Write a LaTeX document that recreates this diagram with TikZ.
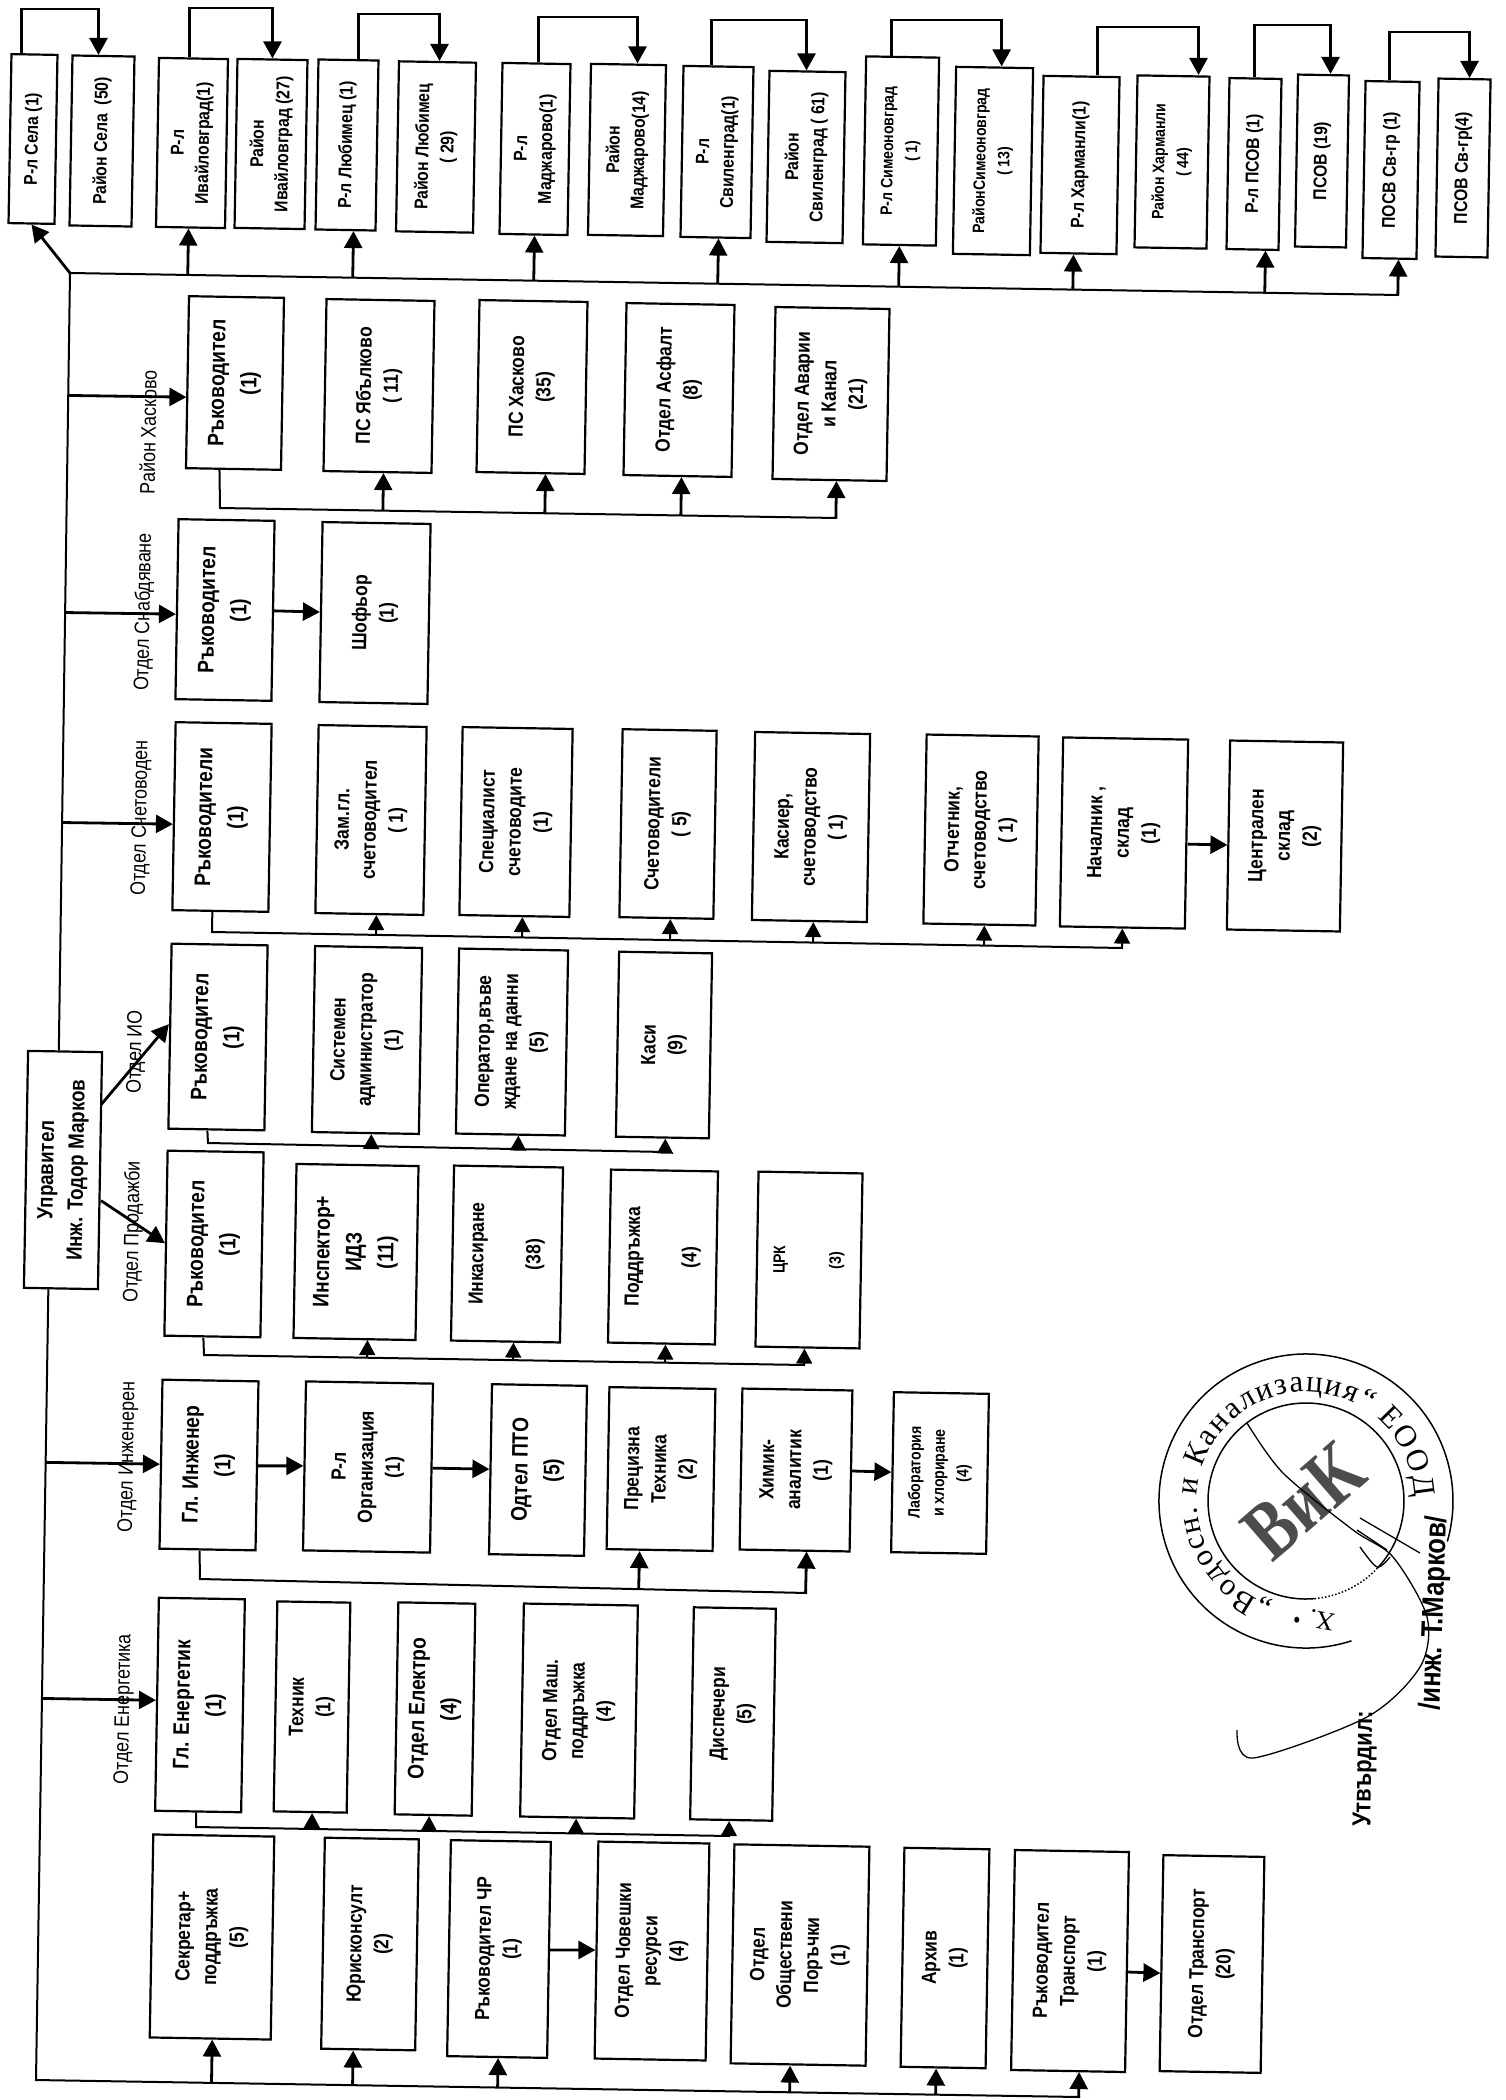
\documentclass[tikz,border=0pt]{standalone}
\usepackage{fontspec}
\setmainfont{Liberation Sans}[FakeStretch=0.85]
\newfontfamily\stampfont{Liberation Serif}
\newfontfamily\logofont{Liberation Serif}[FakeStretch=0.8]
\usetikzlibrary{arrows.meta,calc,decorations.text}
\tikzset{
    box/.style 2 args={draw,line width=2.2pt,rotate=89,minimum width=#1,minimum height=#2,
        inner sep=0pt,align=center,font=\fontsize{20.5}{27}\selectfont\bfseries},
    toptxt/.style={font=\fontsize{18.5}{25}\selectfont\bfseries},
    smalltxt/.style={font=\fontsize{16.5}{24}\selectfont\bfseries},
    bigtxt/.style={font=\fontsize{22.5}{32}\selectfont\bfseries},
    side/.style={rotate=89,inner sep=0pt,font=\fontsize{21}{21}\selectfont},
    wire/.style={line width=2pt},
    link/.style={line width=2.8pt,-{Triangle[length=17pt,width=18pt]}},
    tick/.style={line width=2pt,-{Triangle[length=15pt,width=16pt]}}
}
\begin{document}
\begin{tikzpicture}[x=1pt,y=-1pt]
\useasboundingbox (0,0) rectangle (1505,2100);

% Top row
\node[box={169}{46},toptxt] (r1) at (33,139) {Р-л Села (1)};
\node[box={170}{62},toptxt] (r2) at (102,141) {Район Села\ \ (50)};
\node[box={169}{69},toptxt] (r3) at (192,143) {Р-л\\Ивайловград(1)};
\node[box={169}{70},toptxt] (r4) at (271,144) {Район\\Ивайловград (27)};
\node[box={170}{60},toptxt] (r5) at (347,145) {Р-л Любимец (1)};
\node[box={170}{77},toptxt] (r6) at (436,147) {Район Любимец\\( 29)};
\node[box={171}{68},toptxt] (r7) at (535,149) {Р-л\\Маджарово(1)};
\node[box={171}{75},toptxt] (r8) at (627,150) {Район\\Маджарово(14)};
\node[box={171}{70},toptxt] (r9) at (717,152) {Р-л\\Свиленград(1)};
\node[box={171}{76},toptxt] (r10) at (806,157) {Район\\Свиленград ( 61)};
\node[box={188}{73},smalltxt] (r11) at (901,151) {Р-л Симеоновград\\( 1)};
\node[box={187}{77},smalltxt] (r12) at (993,161) {РайонСимеоновград\\( 13)};
\node[box={177}{76},toptxt] (r13) at (1080,165) {Р-л Харманли(1)};
\node[box={172}{72},smalltxt] (r14) at (1172,162) {Район Харманли\\( 44)};
\node[box={171}{52},toptxt] (r15) at (1254,164) {Р-л ПСОВ (1)};
\node[box={172}{51},toptxt] (r16) at (1322,161) {ПСОВ (19)};
\node[box={177}{54},toptxt] (r17) at (1391,170) {ПОСВ Св-гр (1)};
\node[box={178}{52},toptxt] (r18) at (1463,168) {ПСОВ Св-гр(4)};

% Rayon Haskovo
\node[box={172}{95},bigtxt] (h1) at (235,383) {Ръководител\\(1)};
\node[box={172}{108}] (h2) at (379,386) {ПС Ябълково\\( 11)};
\node[box={172}{108}] (h3) at (532,387) {ПС Хасково\\(35)};
\node[box={172}{108}] (h4) at (679,390) {Отдел Асфалт\\(8)};
\node[box={172}{114}] (h5) at (831,394) {Отдел Аварии\\и Канал\\(21)};

% Snabdyavane
\node[box={180}{96},bigtxt] (s1) at (225,610) {Ръководител\\(1)};
\node[box={180}{108}] (s2) at (375,613) {Шофьор\\(1)};

% Schetovoden
\node[box={188}{96},bigtxt] (c1) at (222,817) {Ръководители\\(1)};
\node[box={188}{108}] (c2) at (371,820) {Зам.гл.\\счетоводител\\( 1)};
\node[box={188}{110}] (c3) at (516,822) {Специалист\\счетоводите\\(1)};
\node[box={188}{94}] (c4) at (668,824) {Счетоводители\\( 5)};
\node[box={188}{115}] (c5) at (811,827) {Касиер,\\счетоводство\\( 1)};
\node[box={189}{112}] (c6) at (981,830) {Отчетник,\\счетоводство\\( 1)};
\node[box={189}{125}] (c7) at (1124,833) {Началник ,\\склад\\(1)};
\node[box={189}{113}] (c8) at (1285,836) {Централен\\склад\\(2)};

% IO
\node[box={185}{96},bigtxt] (i1) at (218,1037) {Ръководител\\(1)};
\node[box={186}{107}] (i2) at (367,1040) {Системен\\администратор\\(1)};
\node[box={185}{109}] (i3) at (512,1042) {Оператор,въве\\ждане на данни\\(5)};
\node[box={185}{93}] (i4) at (664,1045) {Каси\\(9)};

% Prodazhbi
\node[box={185}{96},bigtxt] (p1) at (214,1244) {Ръководител\\(1)};
\node[box={174}{122},bigtxt] (p2) at (356,1252) {Инспектор+\\ИДЗ\\(11)};
\node[box={175}{109}] (p3) at (507,1254) {Инкасиране\\[30pt](38)};
\node[box={173}{107}] (p4) at (663,1257) {Поддръжка\\[30pt](4)};
\node[box={175}{104},smalltxt] (p5) at (809,1260) {ЦРК\\[32pt](3)};

% Inzheneren
\node[box={169}{96},bigtxt] (e1) at (209,1465) {Гл. Инженер\\(1)};
\node[box={169}{127}] (e2) at (368,1467) {Р-л\\Организация\\(1)};
\node[box={170}{95},bigtxt] (e3) at (538,1470) {Одтел ПТО\\(5)};
\node[box={162}{106}] (e4) at (661,1469) {Прецизна\\Техника\\(2)};
\node[box={161}{110}] (e5) at (796,1470) {Химик-\\аналитик\\(1)};
\node[box={160}{95},smalltxt] (e6) at (940,1473) {Лаборатория\\и хлориране\\(4)};

% Energetika
\node[box={213}{86},bigtxt] (g1) at (200,1705) {Гл. Енергетик\\(1)};
\node[box={210}{73}] (g2) at (312,1707) {Техник\\(1)};
\node[box={212}{77},bigtxt] (g3) at (435,1709) {Отдел Електро\\(4)};
\node[box={213}{114}] (g4) at (579,1711) {Отдел Маш.\\поддръжка\\(4)};
\node[box={212}{82}] (g5) at (733,1714) {Диспечери\\(5)};

% Bottom row
\node[box={203}{121}] (m1) at (212,1937) {Секретар+\\поддръжка\\(5)};
\node[box={211}{94}] (m2) at (370,1944) {Юрисконсулт\\(2)};
\node[box={216}{100}] (m3) at (499,1949) {Ръководител ЧР\\(1)};
\node[box={217}{111}] (m4) at (652,1951) {Отдел Човешки\\ресурси\\(4)};
\node[box={219}{135}] (m5) at (800,1955) {Отдел\\Обществени\\Поръчки\\(1)};
\node[box={219}{85}] (m6) at (945,1958) {Архив\\(1)};
\node[box={220}{114}] (m7) at (1070,1961) {Ръководител\\Транспорт\\(1)};
\node[box={216}{101}] (m8) at (1212,1964) {Отдел Транспорт\\(20)};

% Manager
\node[box={237}{74},font=\fontsize{22}{30}\selectfont\bfseries] (boss) at (63,1170) {Управител\\Инж. Тодор Марков};

% Trunk and long buses
\coordinate (topL) at (70,273);
\coordinate (topR) at (1399,295);
\coordinate (botL) at (36,2080);
\coordinate (botR) at (1080,2097);
\draw[wire] (boss.3) -- (topL) -- (topR);
\draw[wire] (boss.174) -- (botL) -- (botR);
\draw[link] (topL) -- (r1.west);

% Top row links
\foreach \n/\d in {r3/-2,r5/8,r7/1,r9/3,r11/0,r13/-5,r15/13,r17/9}
    \draw[link] ($(topL)!([xshift=\d pt]\n.west)!(topR)$) -- ([xshift=\d pt]\n.west);
\foreach \a/\b/\da/\db/\h in {r1/r2/-13/-5/9,r3/r4/-4/0/8,r5/r6/10/2/14,r7/r8/2/9/17,r9/r10/-7/-1/20,
        r11/r12/-11/7/20,r13/r14/16/25/27,r15/r16/-1/7/25,r17/r18/-3/5/32} {
    \path ([xshift=\da pt]\a.east) coordinate (st) ([xshift=\db pt]\b.east) coordinate (en);
    \draw[link] (st) -- (st |- 0,\h) -- (en |- 0,\h) -- (en);
}

% Haskovo links
\coordinate (hA) at (220,508);
\coordinate (hB) at (837,518);
\draw[wire] ([xshift=-14pt]h1.west) -- (hA) -- (hB);
\foreach \n/\d in {h2/6,h3/15,h4/4,h5/7}
    \draw[link] ($(hA)!([xshift=\d pt]\n.west)!(hB)$) -- ([xshift=\d pt]\n.west);
\draw[link] (s1.south) -- (s2.north);

% Schetovoden links
\coordinate (cA) at (212,932);
\coordinate (cB) at (1123,948);
\draw[wire] ([xshift=-8pt]c1.west) -- (cA) -- (cB);
\foreach \n/\d in {c2/7,c3/8,c4/4,c5/4,c6/5,c7/0}
    \draw[tick] ($(cA)!([xshift=\d pt]\n.west)!(cB)$) -- ([xshift=\d pt]\n.west);
\draw[link] ([yshift=-10pt]c7.south) -- ([yshift=-10pt]c8.north);

% IO links
\coordinate (iA) at (208,1143);
\coordinate (iB) at (666,1152);
\draw[wire] ([xshift=-9pt]i1.west) -- (iA) -- (iB);
\foreach \n/\d in {i2/6,i3/8,i4/3}
    \draw[tick] ($(iA)!([xshift=\d pt]\n.west)!(iB)$) -- ([xshift=\d pt]\n.west);

% Prodazhbi links
\coordinate (pA) at (204,1355);
\coordinate (pB) at (805,1365);
\draw[wire] ([xshift=-9pt]p1.west) -- (pA) -- (pB);
\foreach \n/\d in {p2/13,p3/8,p4/4,p5/-3}
    \draw[tick] ($(pA)!([xshift=\d pt]\n.west)!(pB)$) -- ([xshift=\d pt]\n.west);

% Inzheneren links
\coordinate (eA) at (200,1579);
\coordinate (eB) at (807,1593);
\draw[wire] ([xshift=-8pt]e1.west) -- (eA) -- (eB);
\foreach \n/\d in {e4/-20,e5/12}
    \draw[link] ($(eA)!([xshift=\d pt]\n.west)!(eB)$) -- ([xshift=\d pt]\n.west);
\draw[link] (e1.south) -- (e2.north);
\draw[link] (e2.south) -- (e3.north);
\draw[link] (e5.south) -- (e6.north);

% Energetika links
\coordinate (gA) at (196,1827);
\coordinate (gB) at (730,1836);
\draw[wire] ([xshift=-2pt]g1.west) -- (gA) -- (gB);
\foreach \n/\d in {g2/2,g3/-4,g4/-1,g5/-2}
    \draw[tick] ($(gA)!([xshift=\d pt]\n.west)!(gB)$) -- ([xshift=\d pt]\n.west);

% Bottom links
\foreach \n/\d in {m1/2,m2/-15,m3/1,m5/-8,m6/-7,m7/11}
    \draw[link] ($(botL)!([xshift=\d pt]\n.west)!(botR)$) -- ([xshift=\d pt]\n.west);
\draw[link] (m3.south) -- (m4.north);
\draw[link] ([yshift=-10pt]m7.south) -- ([yshift=-10pt]m8.north);

% Trunk to departments
\foreach \n/\d in {h1/15,s1/5,c1/8}
    \draw[link] ($(topL)!([yshift=-\d pt]\n.north)!(boss.3)$) -- ([yshift=-\d pt]\n.north);
\foreach \n/\d in {e1/0,g1/-4}
    \draw[link] ($(boss.174)!([yshift=-\d pt]\n.north)!(botL)$) -- ([yshift=-\d pt]\n.north);
\draw[link] ([yshift=66pt]boss.south) -- ([yshift=12pt]i1.north);
\draw[link] ([yshift=-30pt]boss.south) -- (p1.north);

% Department labels
\node[side] (l1) at (148,432) {Район Хасково};
\node[side] (l2) at (144,612) {Отдел Снабдяване};
\node[side] (l3) at (141,818) {Отдел Счетоводен};
\node[side] (l4) at (136,1052) {Отдел ИО};
\node[side] (l5) at (133,1232) {Отдел Продажби};
\node[side] (l6) at (128,1457) {Отдел Инженерен};
\node[side] (l7) at (124,1709) {Отдел Енергетика};

% Stamp
\begin{scope}[shift={(1306,1501)},y=1pt,line width=1.5pt]
\draw (288:147) arc (288:-16:147);
\draw (275:98) arc (275:-43:98);
\draw[dotted] (275:98) arc (275:317:98);
\path[decorate,decoration={text along path,text align={fit to path},
    text={|\stampfont\fontsize{31}{31}\selectfont|„Водосн. и Канализация“ ЕООД}}]
    (252:109) arc (252:2:109);
\node[rotate=41,font=\logofont\fontsize{82}{82}\selectfont\bfseries,text=black!70] (logo) at (-2,0) {ВиК};
\node[font=\fontsize{22}{22}\selectfont] (dot) at (-9,-121) {•};
\node[rotate=170,font=\stampfont\fontsize{26}{26}\selectfont] (xmark) at (16,-119) {Х.};
\end{scope}

% Signature
\draw[line width=1.3pt] plot[smooth] coordinates {(1247,1423) (1283,1473) (1353,1530) (1393,1557) (1427,1617)
    (1420,1667) (1367,1717) (1253,1758) (1237,1730)};
\draw[line width=1.3pt] (1360,1518) -- (1420,1553);
\draw[line width=1.3pt] (1357,1530) -- (1387,1550);
\draw[line width=1.3pt] plot[smooth] coordinates {(1360,1547) (1377,1567) (1390,1557)};

% Approval
\node[side,font=\fontsize{26}{26}\selectfont\bfseries] (ok) at (1365,1769) {Утвърдил:};
\node[side,rotate=-1,font=\fontsize{30}{30}\selectfont\bfseries] (sig) at (1435,1613) {/инж. Т.Марков/};
\end{tikzpicture}
\end{document}
